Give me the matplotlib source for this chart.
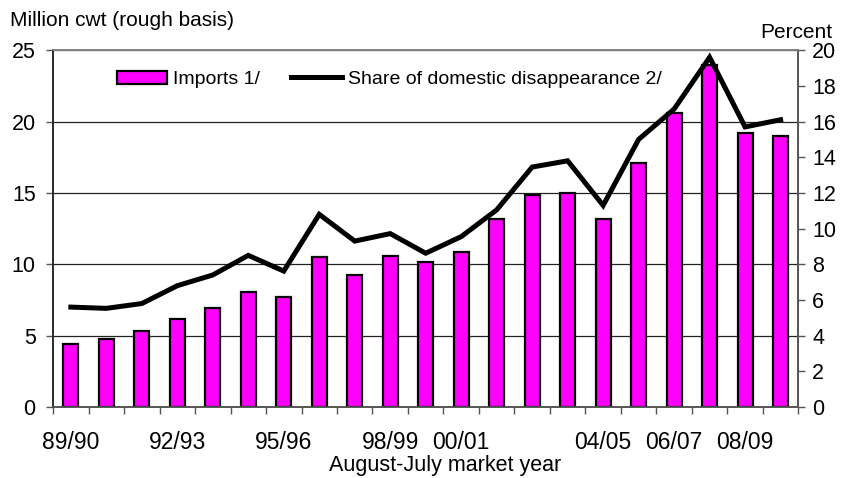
import matplotlib
matplotlib.use("Agg")
import matplotlib.pyplot as plt
import numpy as np

years = ["89/90", "90/91", "91/92", "92/93", "93/94", "94/95", "95/96", "96/97",
         "97/98", "98/99", "99/00", "00/01", "01/02", "02/03", "03/04", "04/05",
         "05/06", "06/07", "07/08", "08/09", "09/10"]
imports = [4.4, 4.8, 5.3, 6.2, 6.95, 8.05, 7.7, 10.5, 9.25, 10.6, 10.15, 10.85,
           13.2, 14.85, 15.0, 13.2, 17.1, 20.6, 23.95, 19.2, 19.0]
share = [5.6, 5.53, 5.8, 6.8, 7.4, 8.5, 7.62, 10.8, 9.3, 9.72, 8.62, 9.55,
         11.05, 13.45, 13.8, 11.3, 15.0, 16.7, 19.6, 15.7, 16.1]
shown_labels = ["89/90", "92/93", "95/96", "98/99", "00/01", "04/05", "06/07", "08/09"]

plt.rcParams['font.family'] = ['Liberation Sans', 'DejaVu Sans']

fig = plt.figure(figsize=(8.43, 4.78), dpi=100)
ax = fig.add_axes([0.063, 0.1485, 0.884, 0.7465])
ax2 = ax.twinx()

x = np.arange(len(years))
bars = ax.bar(x, imports, width=0.42, color="#ff00ff", edgecolor="black",
              linewidth=1.6, label="Imports 1/", zorder=3)
line, = ax2.plot(x, share, color="black", linewidth=3.6, label="Share of domestic disappearance 2/",
                 solid_joinstyle="miter")

ax.set_xlim(-0.5, len(years) - 0.5)
ax.set_ylim(0, 25)
ax2.set_ylim(0, 20)
ax.set_yticks(np.arange(0, 26, 5))
ax2.set_yticks(np.arange(0, 21, 2))
ax.set_axisbelow(True)
ax.yaxis.grid(True, color="#222222", linewidth=0.9)

# x ticks: marks at boundaries, labels at selected years
ax.set_xticks(np.arange(-0.5, len(years), 1.0))
ax.set_xticklabels([])
ax.tick_params(axis="x", length=5, width=1, color="#555555")
pos = [years.index(l) for l in shown_labels]
for p, l in zip(pos, shown_labels):
    ax.text(p, -0.066, l, transform=ax.get_xaxis_transform(), ha="center", va="top",
            fontsize=16.5)

fig.text(445 / 843, 1.5 / 478, "August-July market year", ha="center", va="bottom",
         fontsize=15.5)

ax.tick_params(axis="y", labelsize=15.5, length=5, width=1, color="#555555", pad=7.5)
ax2.tick_params(axis="y", labelsize=15.5, length=5, width=1, color="#555555", pad=5)

for a in (ax, ax2):
    for s in a.spines.values():
        s.set_color("#555555")
        s.set_linewidth(1.2)
ax2.spines["left"].set_color("#222222")
ax2.spines["top"].set_color("#888888")

fig.text(10 / 843, 1 - 20 / 478, "Million cwt (rough basis)", ha="left", va="center", fontsize=15)
fig.text(832 / 843, 1 - 32 / 478, "Percent", ha="right", va="center", fontsize=15)

leg = ax2.legend([bars, line], [bars.get_label(), line.get_label()], loc="upper left",
                 bbox_to_anchor=(0.062, 0.992), ncol=2, frameon=False, fontsize=14,
                 handlelength=2.6, handletextpad=0.3, columnspacing=1.6)

fig.savefig("out.png", dpi=100)
